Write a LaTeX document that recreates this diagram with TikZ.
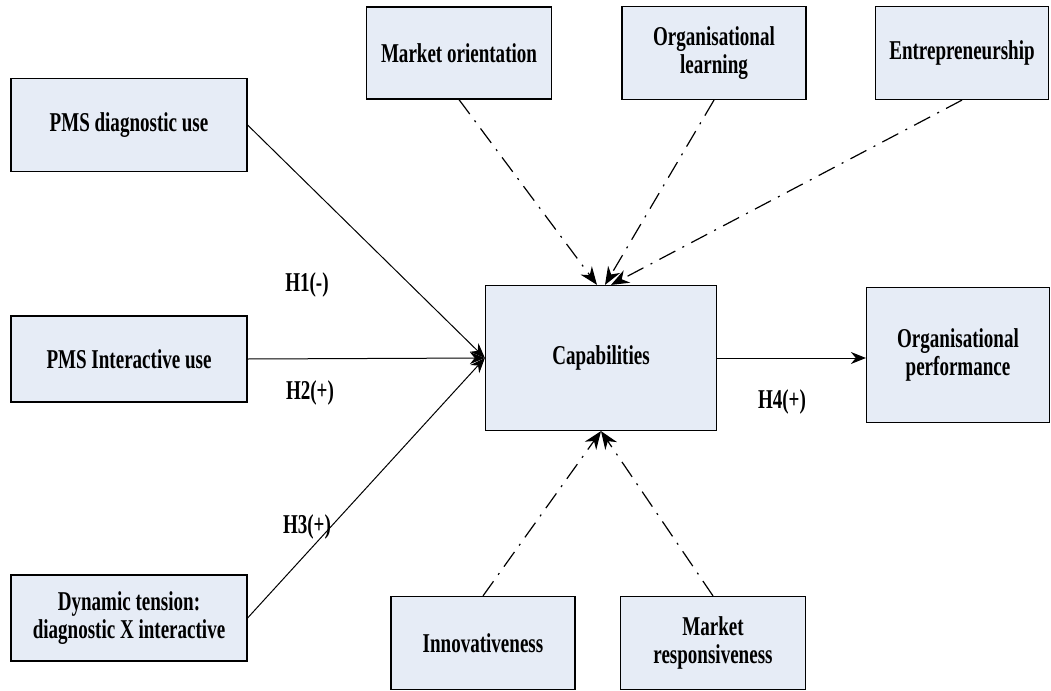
\documentclass[tikz,border=0pt]{standalone}
\usepackage{fontspec}
\setmainfont{Liberation Serif}[FakeStretch=0.7]
\usetikzlibrary{arrows.meta}
\definecolor{boxfill}{RGB}{230,236,246}
\tikzset{
  box/.style={draw, fill=boxfill, line width=0.6pt, align=center,
    font=\fontsize{13.6}{14.2}\selectfont\bfseries, inner sep=2pt},
  hyp/.style={font=\fontsize{13.6}{14.2}\selectfont\bfseries},
  effect/.style={line width=0.5pt, -{Stealth[length=7.5pt,width=6pt]}},
  moderator/.style={line width=0.6pt, dash pattern=on 9pt off 4pt on 1pt off 4pt,
    -{Stealth[length=9pt,width=7pt]}}
}
\begin{document}
\begin{tikzpicture}[x=0.5pt, y=-0.5pt]
      \useasboundingbox (0,0) rectangle (1051,691);
      \draw
        (129,125) node[box, minimum width=118pt, minimum height=46.5pt] (diag){PMS diagnostic use}
        (129,359) node[box, minimum width=118pt, minimum height=43pt] (inter){PMS Interactive use}
        (129,618) node[box, minimum width=118pt, minimum height=43pt] (tension){Dynamic tension:\\diagnostic X interactive}
        (459,53) node[box, minimum width=92.5pt, minimum height=46pt] (market){Market orientation}
        (714,53) node[box, minimum width=92pt, minimum height=46.5pt] (learning){Organisational\\learning}
        (962,53) node[box, minimum width=86.5pt, minimum height=46.5pt] (entre){Entrepreneurship}
        (601,358) node[box, minimum width=115.5pt, minimum height=72.5pt] (cap){Capabilities}
        (958,355) node[box, minimum width=91.5pt, minimum height=67.5pt] (perf){Organisational\\performance}
        (483,643) node[box, minimum width=92pt, minimum height=46.5pt] (innov){Innovativeness}
        (713,643) node[box, minimum width=92.5pt, minimum height=46.5pt] (respons){Market\\responsiveness};
      \draw
        (307,285) node[hyp] (h1){H1(-)}
        (310,393) node[hyp] (h2){H2(+)}
        (307,527) node[hyp] (h3){H3(+)}
        (782,402) node[hyp] (h4){H4(+)};
      \begin{scope}[effect]
        \draw (diag.east) to (cap.west);
        \draw (inter.east) to (cap.west);
        \draw (tension.east) to (cap.west);
        \draw (cap.east) to (cap.east -| perf.west);
      \end{scope}
      \begin{scope}[moderator]
        \draw (market.south) to ([xshift=-2]cap.north);
        \draw (learning.south) to ([xshift=2]cap.north);
        \draw (entre.south) to ([xshift=5]cap.north);
        \draw (innov.north) to (cap.south);
        \draw (respons.north) to (cap.south);
      \end{scope}
    \end{tikzpicture}
\end{document}
